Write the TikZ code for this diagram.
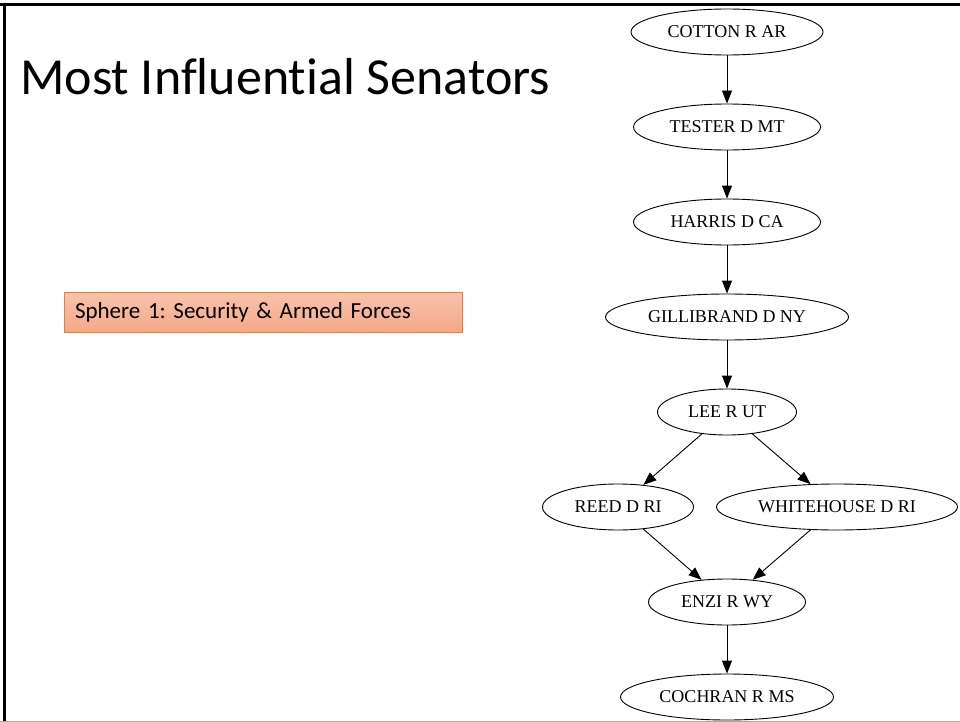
\documentclass[tikz,border=0pt]{standalone}
\usepackage{fontspec}
\setmainfont{Liberation Serif}
\newfontfamily\slidefont[Ligatures=NoCommon]{Carlito}
\usetikzlibrary{shapes,arrows.meta,calc,positioning}
\definecolor{sphereline}{HTML}{ED7D31}
\definecolor{spheretop}{HTML}{F8C3AC}
\definecolor{spherebot}{HTML}{F4A988}
\tikzstyle{senator} = [ellipse, draw, line width=0.9pt, minimum height=46pt,
    inner sep=0pt, font=\fontsize{18}{20}\selectfont]
\tikzstyle{line} = [draw, line width=0.9pt, -{Triangle[length=13pt,width=10pt]}]
\frenchspacing

\begin{document}
\begin{tikzpicture}[x=1pt, y=-1pt, node distance = 95pt]
    \useasboundingbox (0,0) rectangle (960,722);
    % Slide frame
    \draw [line width=3pt] (0,5) -- (960,5);
    \draw [line width=3pt] (4.5,5) -- (4.5,722);
    \draw [gray!70, line width=1pt] (0,721.5) -- (960,721.5);
    % Slide texts
    \node [anchor=base west, inner sep=0pt, font=\slidefont\fontsize{52}{60}\selectfont] (title) at (20,95) {Most Influential Senators};
    \node [draw=sphereline, line width=0.8pt, top color=spheretop, bottom color=spherebot,
        minimum width=398pt, minimum height=40pt, text width=376pt, align=left,
        font=\slidefont\fontsize{23}{26}\selectfont] (sphere) at (263,312) {Sphere 1: Security \& Armed Forces};
    % Place nodes
    \node [senator, minimum width=192pt] (cotton) at (727,32) {COTTON R AR};
    \node [senator, minimum width=187pt, below of=cotton] (tester) {TESTER D MT};
    \node [senator, minimum width=187pt, below of=tester] (harris) {HARRIS D CA};
    \node [senator, minimum width=243pt, below of=harris] (gillibrand) {GILLIBRAND D NY};
    \node [senator, minimum width=139pt, below of=gillibrand] (lee) {LEE R UT};
    \node [senator, minimum width=151pt, below of=lee, xshift=-109pt] (reed) {REED D RI};
    \node [senator, minimum width=241pt, below of=lee, xshift=110pt] (whitehouse) {WHITEHOUSE D RI};
    \node [senator, minimum width=157pt, below of=lee, node distance=190pt] (enzi) {ENZI R WY};
    \node [senator, minimum width=213pt, below of=enzi] (cochran) {COCHRAN R MS};
    % Draw edges
    \path [line] (cotton) -- (tester);
    \path [line] (tester) -- (harris);
    \path [line] (harris) -- (gillibrand);
    \path [line] (gillibrand) -- (lee);
    \path [line] (lee) -- (reed);
    \path [line] (lee) -- (whitehouse);
    \path [line] (reed) -- (enzi);
    \path [line] (whitehouse) -- (enzi);
    \path [line] (enzi) -- (cochran);
\end{tikzpicture}
\end{document}
